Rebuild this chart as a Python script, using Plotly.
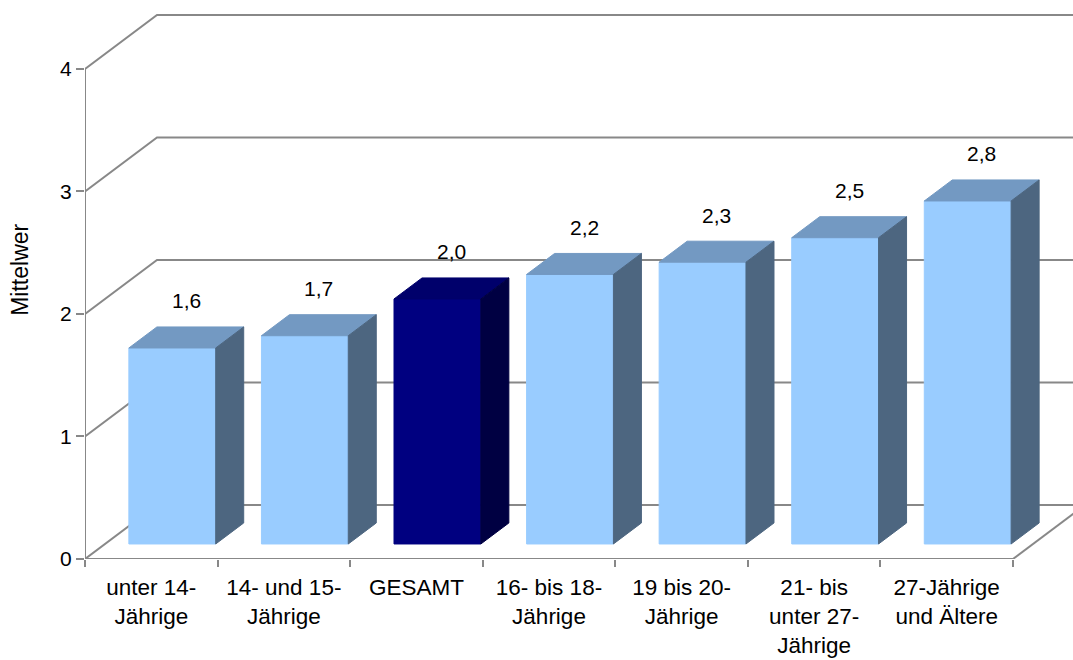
import plotly.graph_objects as go

# Mean values per age group
categories = [
    "unter 14-<br>Jährige",
    "14- und 15-<br>Jährige",
    "GESAMT",
    "16- bis 18-<br>Jährige",
    "19 bis 20-<br>Jährige",
    "21- bis<br>unter 27-<br>Jährige",
    "27-Jährige<br>und Ältere",
]
values = [1.6, 1.7, 2.0, 2.2, 2.3, 2.5, 2.8]
highlight = [False, False, True, False, False, False, False]
y_ticks = [0, 1, 2, 3, 4]

FONT = "Liberation Sans, Arial, sans-serif"
GRID = "#888888"

# Oblique depth of the chart box in data units (x: categories, y: value)
DX = 0.543
DY = 0.441
# Bar footprint inside a category slot and its depth span
A, B = 0.18, 0.835
F1, F2 = 0.278, 0.667

LIGHT = dict(front="#99CCFF", top="#7399C2", side="#4D6680")
DARK = dict(front="#000080", top="#00006B", side="#000042")

n = len(categories)
x_max = 7.4527
y_max = 4.563

fig = go.Figure()


def poly(xs, ys, color):
    fig.add_trace(go.Scatter(
        x=xs + [xs[0]], y=ys + [ys[0]], mode="lines", fill="toself",
        fillcolor=color, line=dict(color=color, width=1),
        hoverinfo="skip", showlegend=False,
    ))


def line(xs, ys):
    fig.add_trace(go.Scatter(
        x=xs, y=ys, mode="lines", line=dict(color=GRID, width=2),
        hoverinfo="skip", showlegend=False,
    ))


# Side wall diagonals and back-wall gridlines
for v in y_ticks:
    line([0, DX, n + DX], [v, v + DY, v + DY])

# Floor: right edge diagonal, front edge and value axis
line([n, n + DX], [0, DY])
line([0, n], [0, 0])
line([0, 0], [0, max(y_ticks)])

# Bars (front, top and side faces)
ddx = (F2 - F1) * DX
ddy = (F2 - F1) * DY
for i, (v, hl) in enumerate(zip(values, highlight)):
    c = DARK if hl else LIGHT
    x0 = i + A + F1 * DX
    x1 = i + B + F1 * DX
    y0 = F1 * DY
    y1 = v + F1 * DY
    poly([x0, x1, x1, x0], [y0, y0, y1, y1], c["front"])
    poly([x0, x1, x1 + ddx, x0 + ddx], [y1, y1, y1 + ddy, y1 + ddy], c["top"])
    poly([x1, x1 + ddx, x1 + ddx, x1], [y0, y0 + ddy, y1 + ddy, y1], c["side"])
    fig.add_annotation(
        x=(x0 + x1) / 2 + ddx / 2, y=y1 + ddy,
        text=f"{v:.1f}".replace(".", ","), showarrow=False,
        yanchor="middle", yshift=26,
        font=dict(family=FONT, size=21, color="#000000"),
    )

# Axis title
fig.add_annotation(
    xref="paper", yref="paper", x=-0.066, y=0.517,
    text="Mittelwer", textangle=-90, showarrow=False,
    xanchor="center", yanchor="middle",
    font=dict(family=FONT, size=23, color="#000000"),
)

fig.update_layout(
    width=1073, height=660,
    margin=dict(l=85, r=0, t=0, b=101),
    paper_bgcolor="white", plot_bgcolor="white",
    showlegend=False,
    xaxis=dict(
        range=[0, x_max], showgrid=False, zeroline=False, showline=False,
        tickmode="array", tickvals=[i + 0.5 for i in range(n)],
        ticktext=categories, ticks="",
        tickfont=dict(family=FONT, size=22.5, color="#000000"),
        ticklabelstandoff=12,
        minor=dict(tickmode="linear", tick0=0, dtick=1, ticks="outside",
                   ticklen=7, tickwidth=2, tickcolor=GRID, showgrid=False),
        fixedrange=True,
    ),
    yaxis=dict(
        range=[0, y_max], showgrid=False, zeroline=False, showline=False,
        tickmode="array", tickvals=y_ticks, ticktext=[str(t) for t in y_ticks],
        ticks="outside", ticklen=8, tickwidth=2, tickcolor=GRID,
        tickfont=dict(family=FONT, size=21, color="#000000"),
        fixedrange=True,
    ),
)

fig.write_html("out.html")
